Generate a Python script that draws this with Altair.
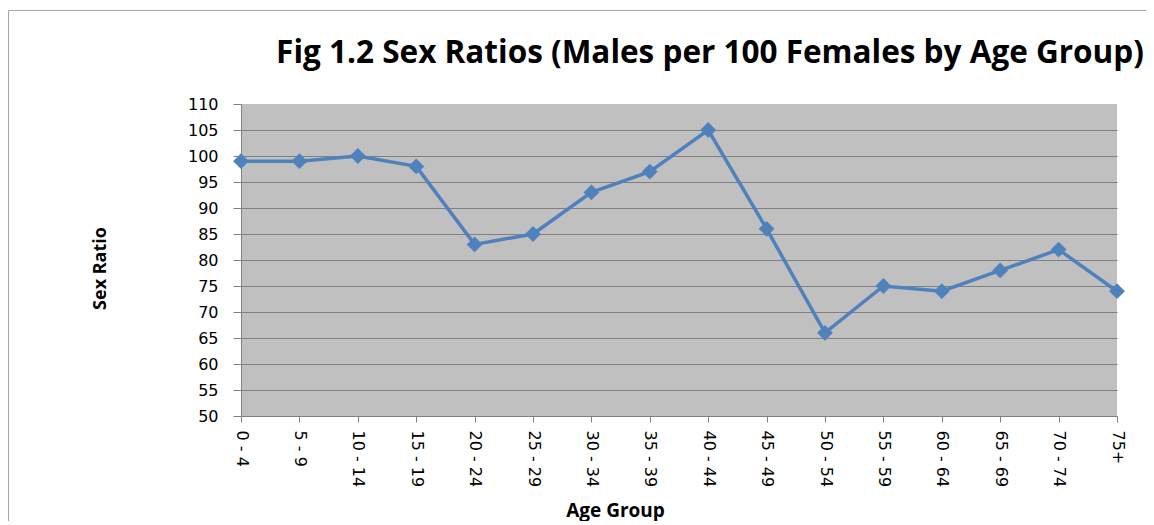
import altair as alt
import pandas as pd

age_groups = ["0 - 4", "5 - 9", "10 - 14", "15 - 19", "20 - 24", "25 - 29", "30 - 34",
              "35 - 39", "40 - 44", "45 - 49", "50 - 54", "55 - 59", "60 - 64",
              "65 - 69", "70 - 74", "75+"]
sex_ratio = [99, 99, 100, 98, 83, 85, 93, 97, 105, 86, 66, 75, 74, 78, 82, 74]
y_ticks = list(range(50, 111, 5))
title_text = "Fig 1.2 Sex Ratios (Males per 100 Females by Age Group)"

df = pd.DataFrame({"age": age_groups, "ratio": sex_ratio})

BLUE = "#4f81bd"
GRAY = "#808080"

x_enc = alt.X(
    "age:N", sort=age_groups,
    scale=alt.Scale(type="point", padding=0),
    axis=alt.Axis(
        title="Age Group", labelAngle=90, labelFont="DejaVu Sans", labelFontSize=16,
        labelColor="black", labelPadding=8, tickSize=6, tickColor=GRAY,
        domainColor=GRAY, grid=False,
        titleFont="Open Sans", titleFontSize=19, titleFontWeight="bold",
        titleColor="black", titleX=374, titleY=100, titleBaseline="alphabetic",
        titleAlign="center",
    ),
)
y_enc = alt.Y(
    "ratio:Q",
    scale=alt.Scale(domain=[50, 110], nice=False, zero=False),
    axis=alt.Axis(
        title="Sex Ratio", values=y_ticks, labelFont="DejaVu Sans", labelFontSize=16,
        labelColor="black", labelPadding=15, tickSize=8, tickColor=GRAY,
        domainColor=GRAY, gridColor=GRAY, gridWidth=1.2,
        gridOpacity={"condition": {"test": "datum.value === 110", "value": 0}, "value": 1},
        titleFont="Open Sans", titleFontSize=18, titleFontWeight="bold",
        titleColor="black", titleX=-141, titleY=164, titleBaseline="middle",
        titleAlign="center", titleAngle=270,
    ),
)

base = alt.Chart(df)
line = base.mark_line(color=BLUE, strokeWidth=3.5).encode(x=x_enc, y=y_enc)
points = base.mark_point(shape="diamond", filled=True, size=250, color=BLUE, opacity=1).encode(x=x_enc, y=y_enc)

frame_df = pd.DataFrame({"k": [0]})
frame_left = alt.Chart(frame_df).mark_rule(color="#a6a6a6", strokeWidth=1).encode(
    x=alt.value(-232.5), y=alt.value(-93.5), y2=alt.value(420))
frame_top = alt.Chart(frame_df).mark_rule(color="#a6a6a6", strokeWidth=1).encode(
    x=alt.value(-232.5), x2=alt.value(920), y=alt.value(-93.5))
title_mark = alt.Chart(frame_df).mark_text(
    text=title_text, font="Open Sans", fontSize=31.5, fontWeight="bold", color="black",
    align="center", baseline="alphabetic",
).encode(x=alt.value(469), y=alt.value(-41))

chart = alt.layer(frame_left, frame_top, title_mark, line, points).properties(
    width=876, height=312,
    autosize=alt.AutoSizeParams(type="none"),
    padding={"left": 233, "top": 96, "right": 29, "bottom": 105},
).configure(background="white").configure_view(fill="#c0c0c0", strokeWidth=0)

chart.save("out.html", embed_options={"renderer": "svg", "actions": False})
